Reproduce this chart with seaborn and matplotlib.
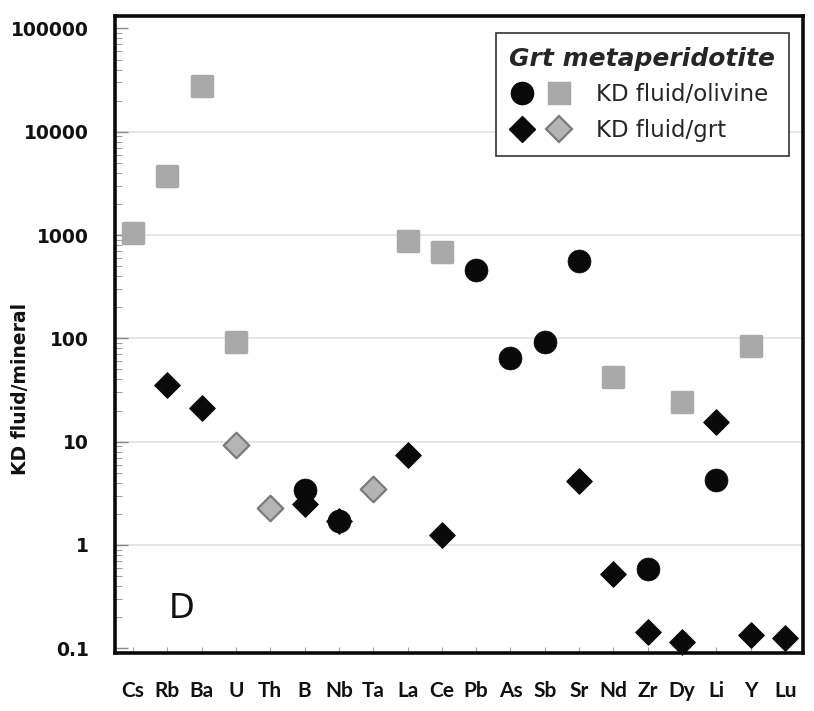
import numpy as np
import pandas as pd
import seaborn as sns
import matplotlib
matplotlib.use("Agg")
import matplotlib.pyplot as plt
from matplotlib.lines import Line2D
from matplotlib.legend_handler import HandlerTuple
from matplotlib.ticker import FixedLocator, FixedFormatter, LogLocator, NullFormatter

nan = np.nan

# Elements along the x axis
elements = ["Cs", "Rb", "Ba", "U", "Th", "B", "Nb", "Ta", "La", "Ce",
            "Pb", "As", "Sb", "Sr", "Nd", "Zr", "Dy", "Li", "Y", "Lu"]

# KD fluid/olivine (black circles and grey squares)
olivine_black = [nan, nan, nan, nan, nan, 3.4, 1.7, nan, nan, nan,
                 460, 65, 92, 560, nan, 0.58, nan, 4.3, nan, nan]
olivine_grey = [1050, 3700, 28000, 92, nan, nan, nan, nan, 880, 680,
                nan, nan, nan, nan, 42, nan, 24, nan, 85, nan]

# KD fluid/garnet (black and grey diamonds)
grt_black = [nan, 35, 21, nan, nan, 2.5, 1.7, nan, 7.5, 1.25,
             nan, nan, nan, 4.2, 0.52, 0.145, 0.115, 15.5, 0.135, 0.125]
grt_grey = [nan, nan, nan, 9.3, 2.3, nan, nan, 3.5, nan, nan,
            nan, nan, nan, nan, nan, nan, nan, nan, nan, nan]

ytick_values = [0.1, 1, 10, 100, 1000, 10000, 100000]
ytick_labels = ["0.1", "1", "10", "100", "1000", "10000", "100000"]
grid_values = [1, 10, 100, 1000, 10000]

legend_title = "Grt metaperidotite"
legend_labels = ["KD fluid/olivine", "KD fluid/grt"]
y_label = "KD fluid/mineral"
panel_tag = "D"

sns.set_style("white")
plt.rcParams["font.family"] = ["DejaVu Sans"]

fig = plt.figure(figsize=(8.14, 7.11), dpi=100)
ax = fig.add_axes([115 / 814, 1 - 653 / 711, 688 / 814, 637 / 711])
ax.set_yscale("log")

for yv in grid_values:
    ax.axhline(yv, color="#e2e2e2", lw=1.2, zorder=0)

BLACK = "#0a0a0a"
GREY_SQ = "#a9a9a9"
GREY_D_FACE = "#b4b4b4"
GREY_D_EDGE = "#7a7a7a"

df = pd.DataFrame({"element": elements,
                   "ol_black": olivine_black, "ol_grey": olivine_grey,
                   "grt_black": grt_black, "grt_grey": grt_grey})

common = dict(x="element", order=elements, jitter=False, ax=ax,
              native_scale=False, zorder=3, clip_on=False)

sns.stripplot(data=df, y="ol_grey", marker="s", size=14.5, color=GREY_SQ,
              edgecolor=GREY_SQ, linewidth=2.5, **common)
sns.stripplot(data=df, y="ol_black", marker="o", size=16.5, color=BLACK,
              edgecolor=BLACK, linewidth=0.5, **common)
sns.stripplot(data=df, y="grt_black", marker="D", size=13, color=BLACK,
              edgecolor=BLACK, linewidth=0.8, **common)
sns.stripplot(data=df, y="grt_grey", marker="D", size=13, color=GREY_D_FACE,
              edgecolor=GREY_D_EDGE, linewidth=1.6, **common)

for c in ax.collections:
    c.set_joinstyle("round")
    c.set_clip_on(False)

ax.set_xlim(-0.52, len(elements) - 0.48)
ax.set_ylim(0.09, 132000)

ax.yaxis.set_major_locator(FixedLocator(ytick_values))
ax.yaxis.set_major_formatter(FixedFormatter(ytick_labels))
ax.yaxis.set_minor_locator(LogLocator(base=10, subs=np.arange(2, 10)))
ax.yaxis.set_minor_formatter(NullFormatter())

ax.set_xticks(range(len(elements)))
ax.set_xticklabels(elements)

ax.tick_params(axis="y", which="major", direction="in", length=9, width=1,
               color="#8a8a8a", pad=19, left=True, right=False)
ax.tick_params(axis="y", which="minor", direction="in", length=5, width=0.8,
               color="#a0a0a0", left=True, right=False)
ax.tick_params(axis="x", which="major", direction="in", length=4, width=0.8,
               color="#a0a0a0", pad=20, bottom=True)

for lab in ax.get_yticklabels():
    lab.set_fontfamily("DejaVu Sans")
    lab.set_fontweight("bold")
    lab.set_fontsize(13.5)
    lab.set_color("#111111")
for lab in ax.get_xticklabels():
    lab.set_fontfamily("Lato")
    lab.set_fontweight("bold")
    lab.set_fontsize(15)
    lab.set_color("#111111")

ax.set_xlabel("")
ax.set_ylabel("")
fig.text(21 / 814, 1 - 389 / 711, y_label, rotation=90, ha="center",
         va="center", fontsize=13.5, fontweight="bold", color="#111111",
         family="DejaVu Sans")

for s in ax.spines.values():
    s.set_visible(True)
    s.set_color("#0a0a0a")
    s.set_linewidth(2.6)

ax.text(182 / 814, 1 - 608 / 711, panel_tag, transform=fig.transFigure,
        ha="center", va="center", fontsize=24, color="#111111",
        family="DejaVu Sans")

h_ol = (Line2D([], [], ls="none", marker="o", ms=16, mfc=BLACK, mec=BLACK),
        Line2D([], [], ls="none", marker="s", ms=14.5, mfc=GREY_SQ, mec=GREY_SQ,
               mew=2.5))
h_grt = (Line2D([], [], ls="none", marker="D", ms=13, mfc=BLACK, mec=BLACK),
         Line2D([], [], ls="none", marker="D", ms=13, mfc=GREY_D_FACE,
                mec=GREY_D_EDGE, mew=1.6))
leg = ax.legend([h_ol, h_grt], legend_labels,
                handler_map={tuple: HandlerTuple(ndivide=None, pad=0.5)},
                loc="upper right",
                bbox_to_anchor=((789 - 115) / 688, 1 - (33 - 16) / 637),
                borderaxespad=0, frameon=True, fancybox=False,
                edgecolor="#333333", framealpha=1, fontsize=16.5,
                handlelength=2.7, handletextpad=1.1, labelspacing=0.55,
                borderpad=0.6, title=legend_title,
                title_fontproperties={"weight": "bold", "style": "italic",
                                      "size": 18, "family": "DejaVu Sans"})
leg.get_frame().set_linewidth(1.2)
leg._legend_box.align = "left"

fig.savefig("out.png", dpi=100, facecolor="white")
